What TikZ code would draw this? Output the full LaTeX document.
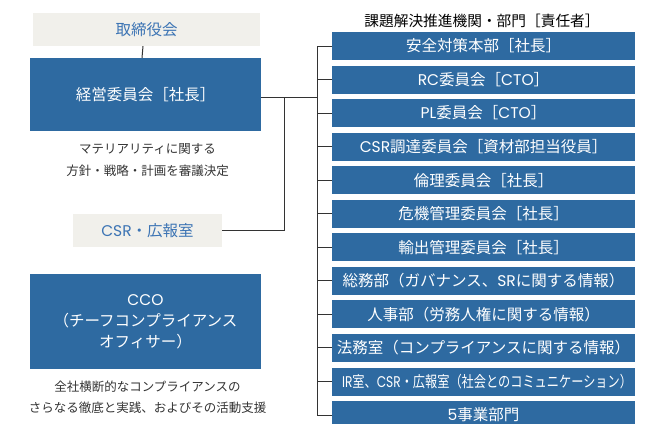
\documentclass[tikz,border=0pt]{standalone}
\usepackage{fontspec}
\setmainfont{Noto Sans CJK JP}
\newfontfamily\latfont{Poppins}
\newcommand{\lt}[1]{{\latfont #1}}
\definecolor{boxblue}{HTML}{2E6AA1}
\definecolor{lightbox}{HTML}{F1F0EB}
\definecolor{bluetext}{HTML}{3C74B4}
\definecolor{linec}{HTML}{333333}
\definecolor{desc}{HTML}{333333}
\begin{document}
\begin{tikzpicture}[x=1pt,y=-1pt,
  bluebox/.style={fill=boxblue,text=white,inner sep=0pt,align=center,
    font=\fontsize{15.5}{21}\selectfont},
  graybox/.style={fill=lightbox,text=bluetext,inner sep=0pt,
    minimum height=33pt,font=\fontsize{15.5}{21}\selectfont},
  rbox/.style={bluebox,minimum width=303pt,minimum height=28pt},
  desctext/.style={text=desc,align=center,inner sep=0pt,
    font=\fontsize{12.5}{21.5}\selectfont},
  conn/.style={draw=linec,line width=1pt}]
\useasboundingbox (0,0) rectangle (650,423);
% left column
\node[graybox,minimum width=227pt] (board) at (146.5,29.5) {取締役会};
\node[bluebox,minimum width=231pt,minimum height=73pt] (mgmt) at (145.5,94.5) {経営委員会［社長］};
\node[desctext] (mdesc) at (147.5,160) {マテリアリティに関する\\方針・戦略・計画を審議決定};
\node[graybox,minimum width=149pt] (csr) at (147.5,230.5) {\lt{CSR}・広報室};
\node[bluebox,minimum width=231pt,minimum height=95pt] (cco) at (145.5,321.5) {\lt{CCO}\\（チーフコンプライアンス\\オフィサー）};
\node[desctext] (cdesc) at (147.5,397.5) {全社横断的なコンプライアンスの\\さらなる徹底と実践、およびその活動支援};
% right column
\node[text=black,inner sep=0pt,font=\fontsize{14.7}{17}\selectfont] (head) at (482,21) {課題解決推進機関・部門［責任者］};
\node[rbox] (r1) at (483.5,46) {安全対策本部［社長］};
\node[rbox] (r2) at (483.5,79.55) {\lt{RC}委員会［\lt{CTO}］};
\node[rbox] (r3) at (483.5,113.1) {\lt{PL}委員会［\lt{CTO}］};
\node[rbox] (r4) at (483.5,146.65) {\lt{CSR}調達委員会［資材部担当役員］};
\node[rbox] (r5) at (483.5,180.2) {倫理委員会［社長］};
\node[rbox] (r6) at (483.5,213.75) {危機管理委員会［社長］};
\node[rbox] (r7) at (483.5,247.3) {輸出管理委員会［社長］};
\node[rbox] (r8) at (483.5,280.85) {総務部（ガバナンス、\lt{SR}に関する情報）};
\node[rbox] (r9) at (483.5,314.4) {人事部（労務人権に関する情報）};
\node[rbox] (r10) at (483.5,347.95) {法務室（コンプライアンスに関する情報）};
\node[rbox] (r11) at (483.5,381.5) {\hspace*{7pt}\resizebox{290pt}{\height}{\lt{IR}室、\lt{CSR}・広報室（社会とのコミュニケーション）}};
\node[rbox] (r12) at (483.5,415.05) {\lt{5}事業部門};
% connectors
\coordinate (tx) at (317,0);
\coordinate (bx) at (284,0);
\coordinate (mj) at ([yshift=-2.5pt]mgmt.east);
\draw[conn] ([xshift=-3.5pt]board.south) -- ([xshift=-3.5pt]mgmt.north);
\draw[conn] (mj) -- (mj -| tx);
\draw[conn] (r1.west -| tx) -- (r12.west -| tx);
\foreach \i in {1,...,12} {\draw[conn] (r\i.west) -- (r\i.west -| tx);}
\draw[conn] (csr.east) -- (csr.east -| bx) -- (bx |- mj);
\end{tikzpicture}
\end{document}
